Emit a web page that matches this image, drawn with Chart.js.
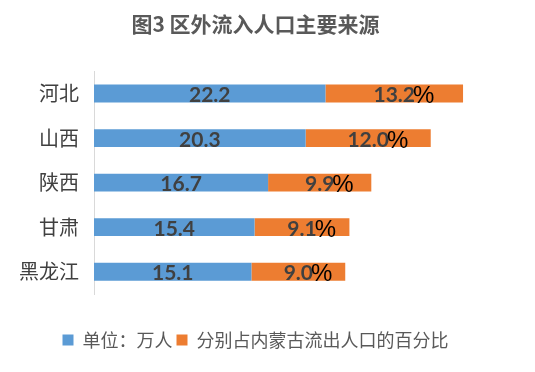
<!DOCTYPE html>
<html>
<head>
<meta charset="utf-8">
<script src="https://cdn.jsdelivr.net/npm/chart.js@4/dist/chart.umd.min.js"></script>
<style>
  body { margin: 0; background: #fff; }
</style>
</head>
<body>
<canvas id="grafico" width="535" height="372"></canvas>
<script>
// Datos del gráfico
var provincias = ['河北', '山西', '陕西', '甘肃', '黑龙江'];
var poblacion = [22.2, 20.3, 16.7, 15.4, 15.1];      // 单位：万人
var porcentaje = [13.2, 12.0, 9.9, 9.1, 9.0];        // 分别占内蒙古流出人口的百分比
var nombresSeries = ['单位：万人', '分别占内蒙古流出人口的百分比'];

var fuenteCJK = '"Noto Sans CJK SC", "Noto Sans", sans-serif';

// Plugin sencillo para escribir los valores dentro de las barras
var etiquetasBarras = {
  id: 'etiquetasBarras',
  afterDatasetsDraw: function (chart) {
    var ctx = chart.ctx;
    ctx.save();
    ctx.textBaseline = 'middle';
    chart.data.datasets.forEach(function (ds, i) {
      var meta = chart.getDatasetMeta(i);
      meta.data.forEach(function (barra, j) {
        var texto = ds.data[j].toFixed(1);
        var cx = (barra.x + barra.base) / 2;
        var cy = barra.y + 2;
        ctx.font = 'bold 21px Lato, sans-serif';
        ctx.fillStyle = '#404040';
        ctx.textAlign = 'center';
        ctx.fillText(texto, cx, cy);
        if (i === 1) {
          var ancho = ctx.measureText(texto).width;
          ctx.textAlign = 'left';
          ctx.fillStyle = '#000';
          ctx.font = '24px "Liberation Sans", sans-serif';
          ctx.fillText('%', cx + ancho / 2 - 2, cy + 1);
        }
      });
    });
    ctx.restore();
  }
};

new Chart(document.getElementById('grafico').getContext('2d'), {
  type: 'bar',
  data: {
    labels: provincias,
    datasets: [{
      label: nombresSeries[0],
      data: poblacion,
      backgroundColor: '#5B9BD5'
    }, {
      label: nombresSeries[1],
      data: porcentaje,
      backgroundColor: '#ED7D31'
    }]
  },
  options: {
    indexAxis: 'y',
    responsive: false,
    animation: false,
    layout: { padding: { top: 0, bottom: 13, left: 0, right: 24 } },
    datasets: { bar: { barPercentage: 0.4, categoryPercentage: 1 } },
    scales: {
      x: {
        stacked: true,
        min: 0,
        max: 40,
        grid: { display: false },
        border: { display: false },
        ticks: { display: false },
        afterFit: function (escala) { escala.height = 33; }
      },
      y: {
        stacked: true,
        grid: { display: false, drawTicks: false },
        border: { display: true, color: '#d9d9d9', width: 1 },
        ticks: {
          padding: 15,
          color: '#404040',
          font: { family: fuenteCJK, size: 20 }
        },
        afterFit: function (escala) { escala.width = 94; }
      }
    },
    plugins: {
      title: {
        display: true,
        text: '图3 区外流入人口主要来源',
        color: '#595959',
        font: { family: fuenteCJK, size: 21, weight: 'bold' },
        padding: { top: 11, bottom: 35 }
      },
      legend: {
        position: 'bottom',
        labels: {
          boxWidth: 11,
          boxHeight: 11,
          padding: 4,
          color: '#595959',
          font: { family: fuenteCJK, size: 18 }
        }
      },
      tooltip: { enabled: false }
    }
  },
  plugins: [etiquetasBarras]
});
</script>
</body>
</html>
